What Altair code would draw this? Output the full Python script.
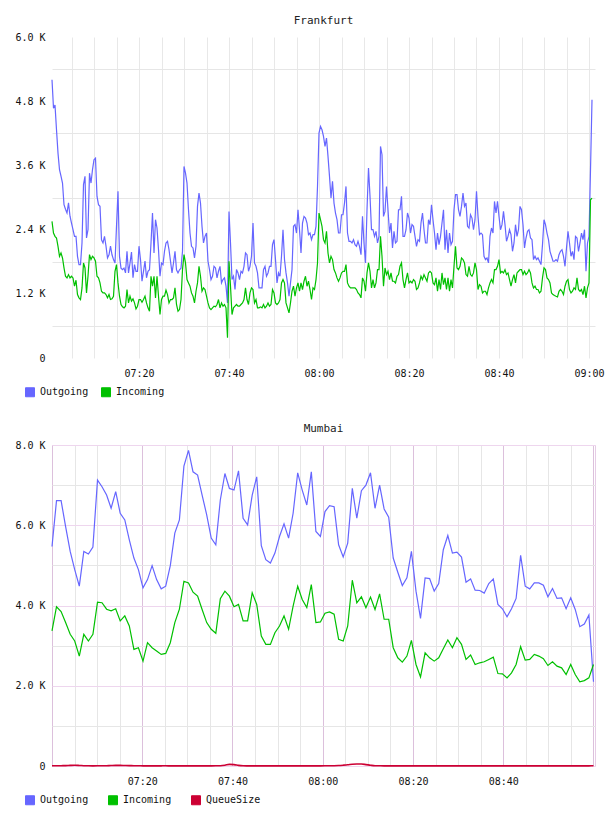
import altair as alt
import pandas as pd

FONT = "DejaVu Sans Mono"

# ---------------- Frankfurt (samples every ~20 s, 07:00:40 -> 09:00:40) ----------------
FRA_OUT = [
    5200, 4670, 4730, 4265, 3830, 3520, 3400, 3270, 2865, 2780,
    2710, 2900, 2650, 2520, 2400, 2275, 2275, 1900, 1745, 1745,
    2150, 3240, 3395, 2245, 2400, 3455, 3270, 3520, 3705, 3735,
    3020, 2865, 2835, 2210, 2150, 2275, 2090, 1870, 1930, 2090,
    1930, 1840, 1775, 2460, 3115, 1900, 1680, 1650, 1680, 1590,
    1995, 1590, 1775, 1980, 1500, 1745, 1620, 1620, 2090, 1840,
    1435, 1620, 1810, 1500, 1620, 1650, 2150, 2710, 1965, 2585,
    2430, 2025, 1530, 1775, 1745, 1995, 2150, 2180, 2025, 1810,
    1590, 1775, 1995, 1650, 1590, 1650, 1680, 1995, 3580, 3455,
    3270,
    2770, 2336, 2088, 2057, 1870, 2088, 2834, 3083, 2896, 2461,
    2150, 2274, 2336, 1808, 1652, 1466, 1528, 1714, 1683, 1497,
    1621, 1714, 1404, 1466, 1497, 1342, 1030, 2740, 2150, 1466,
    1528, 1280, 1652, 1590, 1466, 1621, 1590, 1714, 1963, 1932,
    1621, 1714, 1901, 2523, 1777, 1714, 1590, 1310, 1310, 1310,
    1652, 1714, 1528, 1590, 1714, 1714, 2119, 2212, 1839, 1404,
    1590, 1528, 1901, 2398, 1839, 1590, 1404, 1155, 1404, 1652,
    2461, 2492, 2336, 2771, 2398, 1963, 2523, 2647, 2616, 2523,
    2305, 2336, 2212, 2305, 2305, 2461, 3207, 4204, 4328, 4266,
    4142, 3955,
    4110, 3768, 3395, 2991, 3302, 2896, 2710, 2585, 2336, 2336,
    2678, 2678, 2896, 3207, 2336, 2181, 2181, 2150, 2212, 2119,
    2088, 2181, 2088, 1932, 2647, 2150, 1777, 2771, 3550, 3022,
    2398, 2398, 2274, 2367, 2150, 2274, 3955, 3799, 2647, 2740,
    3207, 2771, 2336, 2523, 2057, 2367, 2150, 2181, 2771, 2771,
    3022, 2274, 2274, 2398, 2710, 2616, 2336, 2492, 2461, 2274,
    2088, 2212, 2181, 2523, 2710, 2398, 2150, 2150, 2585, 2492,
    2865, 2585, 2336, 2025, 2336, 2119, 2274, 2523, 2771, 2025,
    2398, 1963, 2336, 2119, 2181, 2771, 3052, 3052, 2771, 2647,
    2834, 3083,
    2834, 2896, 2461, 2430, 2678, 2616, 2398, 2585, 3114, 2647,
    2305, 2336, 2305, 1901, 1839, 1870, 1777, 2274, 2430, 2336,
    2927, 2710, 2927, 2647, 2398, 2492, 2740, 2492, 2181, 2274,
    2398, 2305, 1994, 2150, 2492, 2274, 2398, 2834, 2771, 2492,
    2057, 2243, 2367, 2398, 2243, 2212, 1839, 1901, 1839, 1870,
    1808, 1746, 2119, 2585, 2492, 2336, 2212, 1994, 1901, 1808,
    1808, 1839, 1808, 1932, 1994, 2025, 1901, 1714, 2057, 2367,
    2150, 1901, 1994, 1839, 2274, 2243, 1994, 2150, 2336, 2212,
    2398, 1621, 2150, 2274, 3520, 4826,
]

FRA_IN = [
    2554, 2336, 2274, 2243, 2088, 1901, 1963, 1870, 1683, 1528,
    1497, 1559, 1497, 1528, 1497, 1342, 1454, 1186, 1124, 1093,
    1310, 1777, 1683, 1217, 1528, 1932, 1839, 1901, 1870, 1808,
    1528, 1497, 1404, 1248, 1217, 1217, 1186, 1124, 1186, 1093,
    1105, 1155, 1621, 1746, 1404, 1155, 1000, 956, 937, 968,
    1280, 1030, 1155, 1062, 1105, 1030, 918, 968, 1093, 1093,
    1043, 1093, 1155, 1030, 937, 875, 1528, 1342, 1528, 1124,
    1528, 1155, 812, 1093, 1155, 1155, 1267, 1186, 1030, 1093,
    1093, 1124, 1310, 1000, 875, 906, 1093, 1652, 1932, 1777,
    1466,
    1404, 1342, 1217, 1155, 1030, 1248, 1404, 1714, 1528, 1248,
    1310, 1280, 1155, 1030, 937, 906, 937, 968, 956, 1000,
    1093, 937, 1030, 968, 1000, 937, 377, 1808, 1342, 812,
    937, 968, 1000, 968, 968, 1000, 1030, 1093, 1310, 1093,
    1000, 1217, 1310, 1280, 1030, 1093, 937, 937, 956, 937,
    1000, 937, 968, 1030, 968, 1000, 1280, 1217, 1030, 1000,
    1030, 1093, 1404, 1466, 1404, 1030, 937, 843, 1030, 1248,
    1342, 1155, 1310, 1404, 1248, 1404, 1280, 1435, 1528, 1342,
    1435, 1280, 1093, 1310, 1280, 1466, 1777, 2710, 2585, 2461,
    2212, 2150,
    2367, 1963, 1777, 1901, 1839, 1652, 1590, 1497, 1435, 1497,
    1590, 1621, 1621, 1746, 1404, 1342, 1310, 1310, 1310, 1310,
    1280, 1217, 1186, 1124, 1497, 1435, 1248, 1590, 1777, 1621,
    1310, 1466, 1310, 1404, 1652, 1652, 2274, 1901, 1342, 1683,
    1559, 1621, 1466, 1590, 1435, 1435, 1404, 1528, 1559, 1714,
    1777, 1466, 1310, 1466, 1590, 1404, 1435, 1404, 1466, 1435,
    1280, 1310, 1404, 1528, 1466, 1559, 1497, 1435, 1590, 1621,
    1590, 1404, 1372, 1497, 1248, 1466, 1280, 1590, 1372, 1497,
    1280, 1497, 1248, 1466, 1310, 1714, 2088, 1683, 1652, 1714,
    1870, 1839,
    1777, 1559, 1528, 1714, 1559, 1528, 1590, 1777, 1652, 1280,
    1372, 1342, 1217, 1248, 1248, 1186, 1310, 1404, 1466, 1404,
    1652, 1652, 1714, 1839, 1590, 1621, 1590, 1652, 1559, 1590,
    1466, 1342, 1466, 1559, 1404, 1590, 1621, 1652, 1652, 1559,
    1621, 1559, 1590, 1652, 1590, 1404, 1310, 1342, 1280, 1280,
    1217, 1248, 1497, 1683, 1652, 1497, 1466, 1404, 1217, 1186,
    1168, 1155, 1143, 1248, 1280, 1248, 1186, 1342, 1435, 1466,
    1280, 1217, 1248, 1310, 1280, 1497, 1280, 1248, 1280, 1186,
    1342, 1124, 1310, 1404, 2958, 2990,
]

# ---------------- Mumbai (about one sample per minute, 07:00 -> 09:00) ----------------
MUM_OUT = [
    5472, 6612, 6612, 5968, 5348, 4894, 4481, 5348, 5282, 5456,
    7125, 6959, 6753, 6423, 6836, 6299, 6134, 5638, 5183, 4894,
    4440, 4646, 4993, 4646, 4415, 4481, 4993, 5803, 6134, 7472,
    7868, 7331, 7249, 6753, 6258, 5679, 5514, 6629, 7290, 6918,
    6877, 7356, 6175, 6010, 6753, 7208, 5489, 5142, 5059, 5307,
    5720, 6034, 5679, 6299, 7307,
    6876, 6505, 7331, 5844, 5720, 6340, 6489, 6464, 5514, 5208,
    5555, 6918, 6175, 6860, 7001, 7307, 6423, 7001, 6406, 6200,
    5183, 4828, 4498, 4688, 5348, 4357, 3680, 4688, 4671, 4357,
    4547, 5390, 5745, 5307, 5332, 5208, 4580, 4663, 4382, 4374,
    4308, 4547, 4663, 4027, 3919, 3720, 3919, 4176, 5249, 4481,
    4415, 4564, 4564, 4506, 4217, 4423, 4176, 4192, 3919, 4192,
    3902, 3472, 3540, 3763, 2101,
]

MUM_IN = [
    3365, 3969, 3850, 3574, 3282, 3115, 2739, 3282, 3115, 3282,
    4085, 4068, 3908, 3866, 3920, 3616, 3741, 3490, 2906, 2948,
    2614, 3073, 2948, 2864, 2781, 2806, 3073, 3574, 3910, 4605,
    4564, 4333, 4233, 3900, 3574, 3407, 3307, 4167, 4357, 4233,
    3969, 4027, 3616, 3616, 4316, 4027, 3240, 3031, 3031, 3323,
    3490, 3741, 3407, 3985, 4481,
    4150, 3950, 4520, 3574, 3590, 3808, 3841, 3782, 3156, 3115,
    3490, 4630, 4068, 4217, 3944, 4210, 3900, 4290, 3657, 3657,
    2948, 2697, 2589, 2739, 3131, 2530, 2221, 2822, 2697, 2614,
    2697, 2923, 3140, 2948, 3198, 3031, 2655, 2764, 2530, 2572,
    2597, 2655, 2714, 2304, 2296, 2196, 2321, 2530, 2973, 2639,
    2655, 2781, 2739, 2672, 2505, 2597, 2488, 2447, 2280, 2530,
    2280, 2096, 2129, 2196, 2530,
]

MUM_QUEUE = [
    5, 5, 8, 10, 15, 18, 14, 8, 5, 4,
    5, 5, 8, 12, 15, 15, 12, 10, 6, 5,
    4, 3, 3, 3, 4, 5, 3, 2, 2, 3,
    3, 4, 3, 2, 2, 3, 5, 8, 20, 40,
    35, 15, 5, 3, 2, 2, 3, 3, 2, 2,
    3, 4, 3, 2, 2, 3, 4, 3, 3, 4,
    5, 6, 8, 12, 20, 30, 45, 50, 48, 35,
    20, 8, 5, 3, 3, 2, 3, 3, 2, 2,
    3, 3, 2, 2, 3, 3, 2, 2, 3, 3,
    2, 3, 3, 2, 2, 3, 3, 2, 3, 3,
    4, 3, 2, 2, 3, 3, 2, 2, 3, 3,
    3, 4, 3, 3, 2, 2, 3, 3, 4, 5,
]

SERIES = ["Outgoing", "Incoming", "QueueSize"]
COLORS = ["#6666ff", "#00c000", "#cc0033"]
DAY = "2024-01-01"


def to_long(start, end, series):
    rows = []
    for name, vals in series:
        times = pd.date_range(f"{DAY} {start}", f"{DAY} {end}", periods=len(vals))
        for t, v in zip(times, vals):
            rows.append({"time": t.strftime("%Y-%m-%dT%H:%M:%S"), "series": name, "value": v})
    return pd.DataFrame(rows)


def dt(h, m, s=0):
    return alt.DateTime(year=2024, month=1, date=1, hours=h, minutes=m, seconds=s)


def five_min(first, last):
    return [dt(7 + m // 60, m % 60) for m in range(first, last + 1, 5)]


def panel(df, title, names, xdom, xvals, xlabel_expr, xgrid, ydom, yvals, ylabel_expr, ygrid,
          border, colpad, queue=False):
    cols = [COLORS[SERIES.index(n)] for n in names]
    x = alt.X("time:T", scale=alt.Scale(domain=xdom),
              axis=alt.Axis(title=None, values=xvals, labelExpr=xlabel_expr, gridColor=xgrid,
                            ticks=False, tickSize=0, domain=False, labelFlush=False,
                            labelOverlap=False, labelPadding=10, labelFont=FONT,
                            labelFontSize=10, labelColor="#111111"))
    y = alt.Y("value:Q", scale=alt.Scale(domain=ydom, nice=False, zero=True),
              axis=alt.Axis(title=None, values=yvals, labelExpr=ylabel_expr, gridColor=ygrid,
                            ticks=False, tickSize=0, domain=False, labelPadding=7,
                            labelFont=FONT, labelFontSize=10, labelColor="#111111",
                            minExtent=46, maxExtent=46, labelOverlap=False))
    stroke = alt.Stroke("series:N", scale=alt.Scale(domain=names, range=cols), legend=None)
    base = alt.Chart(df)
    legend_layer = base.mark_square(size=0, opacity=1, filled=True).encode(
        x=x, y=y,
        color=alt.Color("series:N", scale=alt.Scale(domain=names, range=cols),
                        legend=alt.Legend(title=None, orient="none", legendX=-27, legendY=350,
                                          direction="horizontal", symbolType="square",
                                          symbolSize=81, symbolStrokeColor="#8a8a8a",
                                          symbolStrokeWidth=1, symbolOpacity=1,
                                          labelFont=FONT, labelFontSize=10,
                                          labelColor="#111111", labelOffset=5,
                                          columnPadding=colpad, padding=0)))
    main = base.transform_filter(alt.datum.series != "QueueSize").mark_line(
        strokeWidth=1.2).encode(x=x, y=y, stroke=stroke)
    layers = [legend_layer, main]
    if queue:
        q = base.transform_filter(alt.datum.series == "QueueSize").mark_line(
            strokeWidth=1.6, interpolate="monotone").encode(x=x, y=y, stroke=stroke)
        layers.append(q)
    return alt.layer(*layers).properties(
        width=543, height=321,
        title=alt.TitleParams(title, font=FONT, fontSize=11, fontWeight="normal",
                              color="#222222", offset=6),
        view=alt.ViewBackground(stroke=border),
    )


fra_df = to_long("07:00:40", "09:00:40", [("Outgoing", FRA_OUT), ("Incoming", FRA_IN)])
mum_df = to_long("07:00:00", "09:00:00",
                 [("Outgoing", MUM_OUT), ("Incoming", MUM_IN), ("QueueSize", MUM_QUEUE)])

fra = panel(
    fra_df, "Frankfurt", ["Outgoing", "Incoming"],
    [dt(7, 0, 40), dt(9, 1, 20)], five_min(5, 120),
    "minutes(datum.value) % 20 == 0 ? timeFormat(datum.value, '%H:%M') : ''",
    "#e8e8e8",
    [0, 6000], list(range(0, 6001, 600)),
    "datum.value == 0 ? '0' : (datum.value % 1200 == 0 ? format(datum.value / 1000, '.1f') + ' K' : '')",
    {"condition": {"test": "datum.value % 1200 == 0", "value": "transparent"}, "value": "#e6e6e6"},
    "transparent", 10,
)

mum = panel(
    mum_df, "Mumbai", ["Outgoing", "Incoming", "QueueSize"],
    [dt(7, 0), dt(9, 0, 20)], five_min(0, 120),
    "(minutes(datum.value) % 20 == 0 && (hours(datum.value) == 8 || (hours(datum.value) == 7 && minutes(datum.value) > 0))) ? timeFormat(datum.value, '%H:%M') : ''",
    {"condition": {"test": "minutes(datum.value) % 20 == 0", "value": "#dcc0dc"}, "value": "#e6e6e6"},
    [0, 8000], list(range(0, 8001, 1000)),
    "datum.value == 0 ? '0' : (datum.value % 2000 == 0 ? format(datum.value / 1000, '.1f') + ' K' : '')",
    {"condition": {"test": "datum.value % 2000 == 0", "value": "#eed6ee"}, "value": "#e6e6e6"},
    "#e6cce6", 17, queue=True,
)

chart = alt.vconcat(fra, mum, spacing=22).resolve_scale(
    color="independent", stroke="independent", x="independent", y="independent"
).resolve_legend(color="independent").properties(
    padding={"left": 5, "top": 14, "right": 0, "bottom": 0},
    background="white",
)

chart.save("out.html", embed_options={"renderer": "svg", "actions": False})
